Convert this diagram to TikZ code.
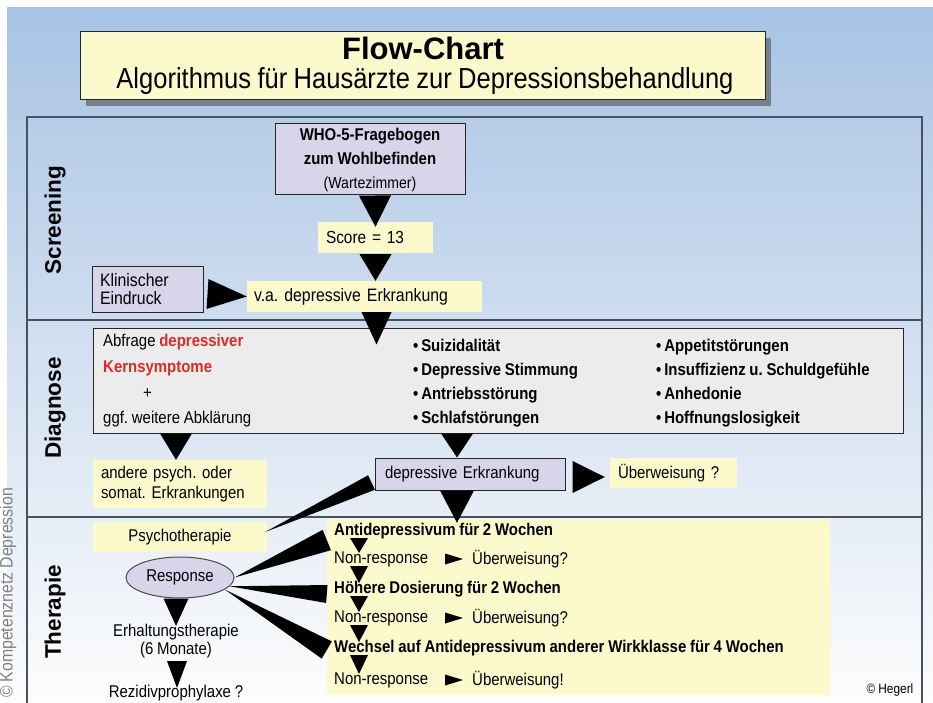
\documentclass[tikz,border=0pt]{standalone}
\usepackage{fontspec}
\setmainfont{Liberation Sans}
\newfontfamily\schmal{Liberation Sans}[FakeStretch=0.88, WordSpace=0.9]
\frenchspacing
\usetikzlibrary{calc,shapes.geometric,shadows}
\definecolor{bgoben}{RGB}{168,195,228}
\definecolor{bgmitte}{RGB}{210,222,238}
\definecolor{bgunten}{RGB}{253,253,253}
\definecolor{lila}{RGB}{216,212,234}
\definecolor{gelb}{RGB}{252,249,205}
\definecolor{grau}{RGB}{236,236,236}
\definecolor{rot}{RGB}{218,45,40}
\definecolor{rahmenfarbe}{RGB}{72,82,96}
\definecolor{schatten}{RGB}{120,128,142}
\tikzset{
  lilabox/.style={draw=black!85, line width=1pt, fill=lila, inner sep=0pt},
  gelbbox/.style={fill=gelb, inner sep=0pt},
  txt/.style={font=\schmal\fontsize{17}{18}\selectfont, inner sep=0pt},
  fett/.style={font=\schmal\bfseries\fontsize{17}{18}\selectfont, inner sep=0pt},
  lane/.style={rotate=90, inner sep=0pt, font=\bfseries\fontsize{22.5}{24}\selectfont},
  rahmen/.style={draw=rahmenfarbe, line width=1.4pt}
}
% dicker Pfeil: Basis #1, Spitze #2, halbe Breite #3
\newcommand{\pfeil}[3]{\fill[black] ($#1!#3!90:#2$) -- #2 -- ($#1!#3!-90:#2$) -- cycle;}

\begin{document}
\begin{tikzpicture}[x=1pt,y=-1pt]
\useasboundingbox (0,0) rectangle (933,703);
\fill[white] (0,0) rectangle (933,703);
\shade[top color=bgoben, middle color=bgmitte, bottom color=bgunten] (7,8) rectangle (933,703);

% Titel
\node[fill=gelb, draw=black!85, line width=1pt, minimum width=685pt, minimum height=68pt,
  drop shadow={shadow xshift=6pt, shadow yshift=-6pt, fill=schatten, opacity=1}] (titel) at (422.5,66) {};
\node[font=\bfseries\fontsize{31}{34}\selectfont, inner sep=0pt] (flow) at (423,48) {Flow-Chart};
\node[font=\schmal\fontsize{29}{32}\selectfont, inner sep=0pt] (untertitel) at (425,81) {Algorithmus für Hausärzte zur Depressionsbehandlung};

% Rahmen und Bahnen
\draw[rahmen] (27,710) -- (27,117) -- (922,117) -- (922,710);
\draw[rahmen] (27,320) -- (922,320) (27,517) -- (922,517);
\node[lane] (screening) at (55,220) {Screening};
\node[lane] (diagnose) at (55,408) {Diagnose};
\node[lane] (therapie) at (55,612) {Therapie};

% Screening
\node[lilabox, minimum width=190pt, minimum height=71pt, align=center,
  font=\schmal\bfseries\fontsize{17}{24}\selectfont] (who) at (370,159.5)
  {WHO-5-Fragebogen\\zum Wohlbefinden\\{\mdseries\fontsize{16}{24}\selectfont(Wartezimmer)}};
\node[gelbbox, txt, font=\schmal\fontsize{17.5}{20}\selectfont, text width=99pt, inner xsep=8pt,
  minimum height=31pt, align=left] (score) at (375.5,237.5) {Score = 13};
\node[lilabox, txt, font=\schmal\fontsize{18}{18}\selectfont, text width=95pt, inner xsep=8pt,
  minimum height=46pt, align=left] (klinisch) at (147.5,289) {Klinischer\\Eindruck};
\node[gelbbox, txt, font=\schmal\fontsize{18}{20}\selectfont, text width=221pt, inner xsep=7pt,
  minimum height=31pt, align=left] (verdacht) at (364.5,296.5) {v.a. depressive Erkrankung};

% Diagnose
\node[draw=black!85, line width=1pt, fill=grau, minimum width=810pt, minimum height=105pt] (diag) at (498,380.5) {};
\node[txt, anchor=west, align=left, font=\schmal\fontsize{17}{25.7}\selectfont] (abfrage) at (103,381)
  {Abfrage \textcolor{rot}{\bfseries depressiver}\\\textcolor{rot}{\bfseries Kernsymptome}\\\hspace*{40pt}+\\ggf. weitere Abklärung};
\node[fett, anchor=west, align=left, font=\schmal\bfseries\fontsize{17}{24}\selectfont] (symptomeA) at (413,382.7)
  {•\,Suizidalität\\•\,Depressive Stimmung\\•\,Antriebsstörung\\•\,Schlafstörungen};
\node[fett, anchor=west, align=left, font=\schmal\bfseries\fontsize{17}{24}\selectfont] (symptomeB) at (656,382.7)
  {•\,Appetitstörungen\\•\,Insuffizienz u. Schuldgefühle\\•\,Anhedonie\\•\,Hoffnungslosigkeit};
\node[gelbbox, txt, font=\schmal\fontsize{17}{20}\selectfont, text width=158pt, inner xsep=8pt,
  minimum height=48pt, align=left] (andere) at (180,484) {andere psych. oder\\somat. Erkrankungen};
\node[lilabox, txt, text width=170pt, inner xsep=10pt, minimum height=32pt, align=left] (depr) at (470,474) {depressive Erkrankung};
\node[gelbbox, txt, text width=111pt, inner xsep=8pt, minimum height=30pt, align=left] (ueberw) at (673.5,473) {Überweisung ?};

% Therapie
\node[gelbbox, txt, minimum width=174pt, minimum height=30pt] (psycho) at (180,537) {Psychotherapie};
\node[ellipse, draw=black!70, line width=1pt, fill=lila, minimum width=108pt, minimum height=41pt, txt] (response) at (180,577.5) {Response};
\node[txt, align=center] (erhaltung) at (176,641) {Erhaltungstherapie\\(6 Monate)};
\node[txt] (rezidiv) at (176,693) {Rezidivprophylaxe ?};
\node[gelbbox, minimum width=503pt, minimum height=176pt] (therapiebox) at (578.5,607) {};
\node[fett, anchor=west] (antid) at (334,531) {Antidepressivum für 2 Wochen};
\node[txt, anchor=west] (nr1) at (334,559) {Non-response};
\node[txt, anchor=west] (ue1) at (472,559) {Überweisung?};
\node[fett, anchor=west] (hoeher) at (334,589) {Höhere Dosierung für 2 Wochen};
\node[txt, anchor=west] (nr2) at (334,618) {Non-response};
\node[txt, anchor=west] (ue2) at (472,618) {Überweisung?};
\node[fett, anchor=west] (wechsel) at (334,648) {Wechsel auf Antidepressivum anderer Wirkklasse für 4 Wochen};
\node[txt, anchor=west] (nr3) at (334,680) {Non-response};
\node[txt, anchor=west] (ue3) at (472,680) {Überweisung!};
\node[txt, font=\schmal\fontsize{13.5}{14}\selectfont] (hegerl) at (890,690) {© Hegerl};
\node[rotate=90, inner sep=0pt, text=black!50, font=\schmal\fontsize{18}{20}\selectfont] (kompetenz) at (8,593) {© Kompetenznetz Depression};

% Pfeile
\pfeil{($(who.south)+(5,0)$)}{($(score.north)+(0,5)$)}{16pt}
\pfeil{($(score.south)+(0,1)$)}{(score.south|-verdacht.north)}{16pt}
\pfeil{($(klinisch.east)+(4,5)$)}{(verdacht.west)}{15pt}
\pfeil{($(score.south|-verdacht.south)+(1,0)$)}{($(score.south|-diag.north)+(1,17)$)}{15pt}
\pfeil{($(andere.north|-diag.south)+(-4,0)$)}{($(andere.north)+(-4,0)$)}{16pt}
\pfeil{($(depr.north|-diag.south)+(-13,0)$)}{($(depr.north)+(-13,0)$)}{16pt}
\pfeil{($(depr.east)+(7,3)$)}{($(ueberw.west)+(-5,4)$)}{16pt}
\pfeil{($(depr.south west)+(-3,-8)$)}{($(psycho.east)+(-2,-5)$)}{8pt}
\pfeil{($(depr.south)+(-13,0)$)}{($(depr.south|-therapiebox.north)+(-13,4)$)}{17pt}
\pfeil{($(therapiebox.west|-antid.west)+(0,9)$)}{(response.east)}{11pt}
\pfeil{($(therapiebox.west|-hoeher.west)+(0,5)$)}{(response.-10)}{9pt}
\pfeil{($(therapiebox.west|-wechsel.west)+(0,2)$)}{(response.-15)}{10pt}
\pfeil{($(response.south)+(-4,0)$)}{($(erhaltung.north)+(0,2)$)}{12.5pt}
\pfeil{($(erhaltung.south)+(1,3)$)}{($(rezidiv.north)+(1,3)$)}{10pt}
\foreach \a/\b in {antid/nr1, nr1/hoeher, hoeher/nr2, nr2/wechsel, wechsel/nr3}
  {\pfeil{($(\a.west)+(25,7)$)}{($(\b.west)+(25,-6)$)}{9pt}}
\foreach \n in {1,2,3}
  {\pfeil{($(ue\n.west)+(-27,0)$)}{($(ue\n.west)+(-9,0)$)}{5.5pt}}
\end{tikzpicture}
\end{document}
